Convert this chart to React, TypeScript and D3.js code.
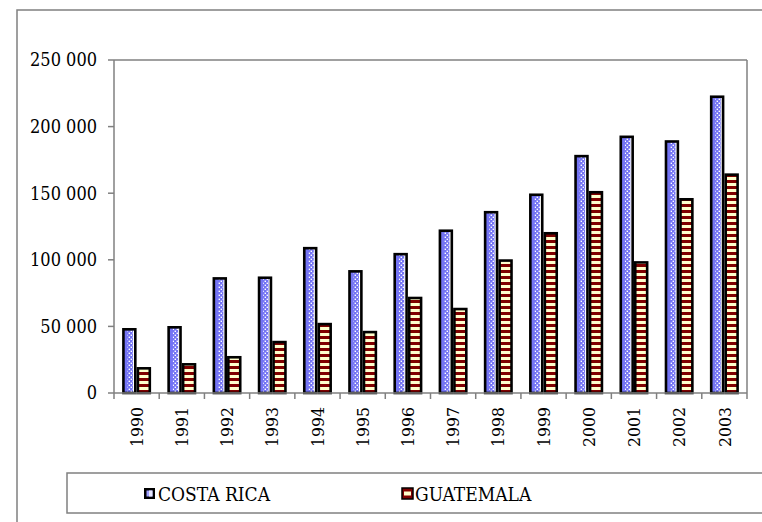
import React from "react";
import * as d3 from "d3";

const years = ["1990","1991","1992","1993","1994","1995","1996","1997","1998","1999","2000","2001","2002","2003"];
const costaRica = [48800, 50300, 87000, 87500, 109700, 92300, 105200, 122800, 136700, 149800, 178800, 193300, 189800, 223400];
const guatemala = [19500, 22500, 27800, 39200, 52700, 46700, 72300, 64000, 100400, 120900, 151700, 99000, 146400, 164900];
const seriesNames = ["COSTA RICA", "GUATEMALA"];
const yTicks = [0, 50000, 100000, 150000, 200000, 250000];

const W = 762, H = 522;
const M = { left: 114, right: 747, top: 60, bottom: 393 };
const FONT = "DejaVu Serif Condensed, DejaVu Serif, serif";

const locale = d3.formatLocale({ decimal: ",", thousands: " ", grouping: [3], currency: ["", ""] });
const fmt = locale.format(",");

export default function App() {
  const x = d3.scaleBand<string>().domain(years).range([M.left, M.right]).paddingInner(0).paddingOuter(0);
  const inner = d3.scaleBand<string>().domain(seriesNames).range([0, x.bandwidth()]).paddingInner(0).paddingOuter(0.56);
  const y = d3.scaleLinear().domain([0, 250000]).range([M.bottom, M.top]);
  const bw = inner.bandwidth();
  const sw = 2.6;

  return (
    <svg width={W} height={H} style={{ position: "absolute", left: 0, top: 0, background: "#fff" }}>
      <defs>
        <pattern id="checker" patternUnits="userSpaceOnUse" width="4" height="4">
          <rect width="4" height="4" fill="#7474f4" />
          <rect x="0.6" y="0.6" width="1.4" height="1.4" fill="#ffffff" />
          <rect x="2.6" y="2.6" width="1.4" height="1.4" fill="#ffffff" />
        </pattern>
        <pattern id="stripes" patternUnits="userSpaceOnUse" width="6" height="6" y={M.bottom}>
          <rect width="6" height="6" fill="#ffffcc" />
          <rect y="3" width="6" height="3" fill="#800000" />
        </pattern>
      </defs>

      <rect x={17} y={10} width={800} height={600} fill="#fff" stroke="#808080" strokeWidth={1.5} />
      <line x1={M.left} x2={M.right} y1={M.top} y2={M.top} stroke="#808080" strokeWidth={1.5} />
      <line x1={M.right} x2={M.right} y1={M.top} y2={M.bottom} stroke="#808080" strokeWidth={1.5} />

      {years.map((yr, i) => {
        const x0 = (x(yr) as number);
        const cx = x0 + (inner("COSTA RICA") as number);
        const gx = x0 + (inner("GUATEMALA") as number);
        const cTop = y(costaRica[i]);
        const gTop = y(guatemala[i]);
        const ih = M.bottom - cTop;
        const innerW = bw - sw;
        const ix = cx + sw / 2;
        const iy = cTop + sw / 2;
        const hh = Math.max(0, ih - sw / 2);
        return (
          <g key={yr}>
            <rect x={ix} y={iy} width={innerW} height={hh} fill="#7474f4" />
            <rect x={ix + innerW * 0.35} y={iy} width={innerW * 0.45} height={hh} fill="url(#checker)" />
            <rect x={ix + innerW * 0.8} y={iy} width={innerW * 0.2} height={hh} fill="#ffffff" />
            <rect x={ix} y={iy} width={innerW} height={hh} fill="none" stroke="#000" strokeWidth={sw} />
            <rect x={gx + sw / 2} y={gTop + sw / 2} width={bw - sw} height={M.bottom - gTop - sw / 2} fill="url(#stripes)" stroke="#000" strokeWidth={sw} />
          </g>
        );
      })}

      <line x1={M.left} x2={M.left} y1={M.top} y2={M.bottom} stroke="#808080" strokeWidth={1.5} />
      <line x1={M.left} x2={M.right} y1={M.bottom} y2={M.bottom} stroke="#808080" strokeWidth={1.5} />
      {yTicks.map((t) => (
        <g key={t}>
          <line x1={M.left - 6} x2={M.left} y1={y(t)} y2={y(t)} stroke="#808080" strokeWidth={1.5} />
          <text x={M.left - 17} y={y(t)} dy="0.35em" textAnchor="end" fontFamily={FONT} fontSize={18} fill="#000">{fmt(t)}</text>
        </g>
      ))}
      {years.map((yr) => (
        <line key={"t" + yr} x1={x(yr) as number} x2={x(yr) as number} y1={M.bottom} y2={M.bottom + 6} stroke="#808080" strokeWidth={1.5} />
      ))}
      <line x1={M.right} x2={M.right} y1={M.bottom} y2={M.bottom + 6} stroke="#808080" strokeWidth={1.5} />
      {years.map((yr) => {
        const cxp = (x(yr) as number) + x.bandwidth() / 2;
        const ty = M.bottom + 14;
        return (
          <text key={"l" + yr} transform={`translate(${cxp},${ty}) rotate(-90)`} textAnchor="end" dy="0.35em" fontFamily={FONT} fontSize={17.5} fill="#000">{yr}</text>
        );
      })}

      <rect x={67} y={473} width={800} height={40} fill="#fff" stroke="#808080" strokeWidth={1.5} />
      <g>
        <rect x={144} y={488} width={11} height={11} fill="#000" />
        <rect x={146.5} y={490.5} width={6} height={6} fill="#a0a0ff" />
        <rect x={149} y={490.5} width={3.5} height={6} fill="#e8e8ff" />
        <text x={158} y={494} dy="0.35em" fontFamily={FONT} fontSize={19} fill="#000">{seriesNames[0]}</text>
      </g>
      <g>
        <rect x={402} y={488} width={11} height={11} fill="#800000" stroke="#000" strokeWidth={1.5} />
        <rect x={404} y={491.5} width={7} height={4} fill="#ffffcc" />
        <text x={415} y={494} dy="0.35em" fontFamily={FONT} fontSize={19} fill="#000">{seriesNames[1]}</text>
      </g>
    </svg>
  );
}
